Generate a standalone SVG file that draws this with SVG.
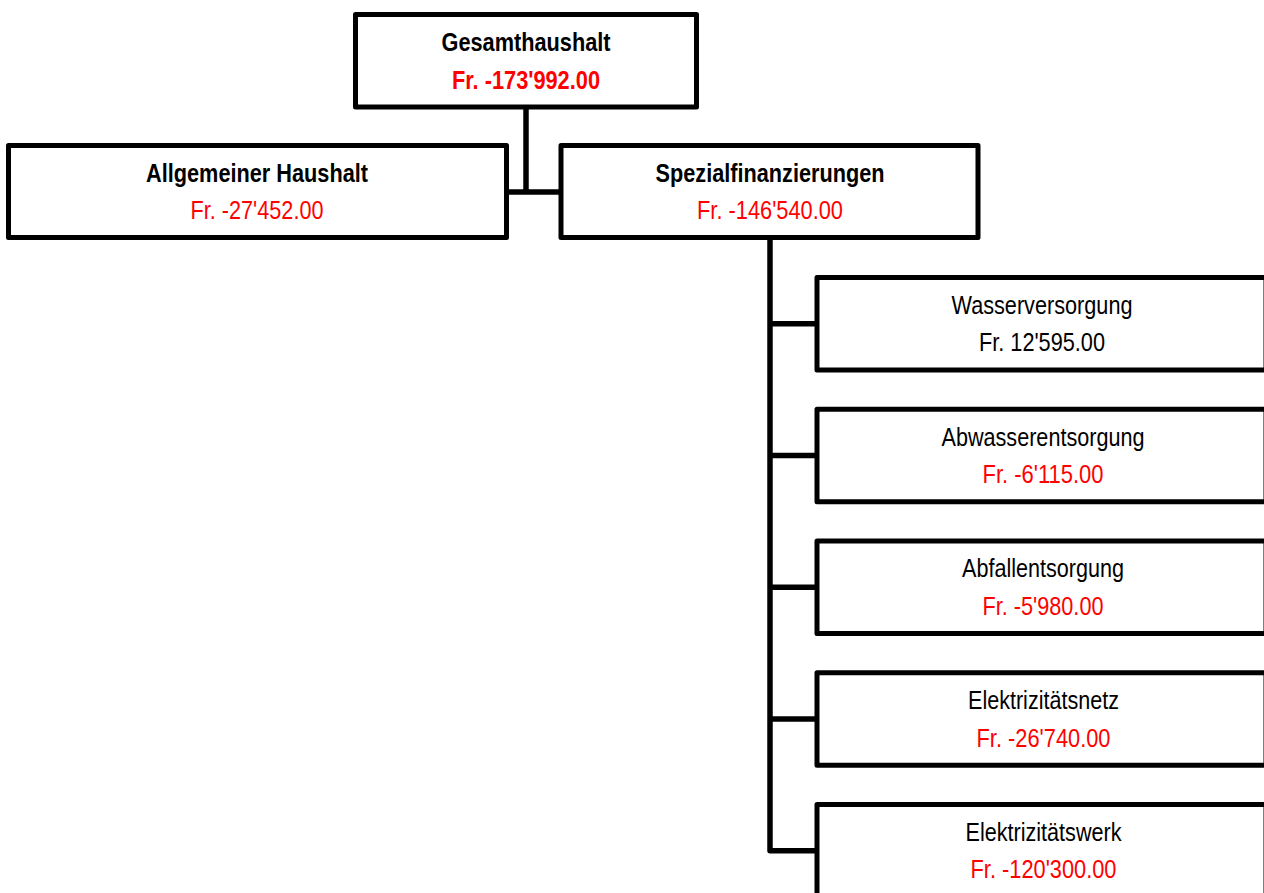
<svg xmlns="http://www.w3.org/2000/svg" width="1264" height="893" viewBox="0 0 1264 893">
<style>
.box{fill:#fff;stroke:#000;stroke-width:5;stroke-linejoin:round}
.con{fill:none;stroke:#000;stroke-width:5.5;stroke-linejoin:round}
text{font-family:"Liberation Sans Narrow","Liberation Sans",Arial,sans-serif;font-size:25px;text-anchor:middle}
.t{fill:#000}
.v{fill:#ff0000}
.b{font-weight:bold}
</style>
<rect width="1264" height="893" fill="#fff"/>
<g id="connectors">
<path class="con" d="M526 107V192"/>
<path class="con" d="M506.7 192H561"/>
<path class="con" d="M770 237V850.75H817"/>
<path class="con" d="M770 323.75H817"/>
<path class="con" d="M770 455.5H817"/>
<path class="con" d="M770 587.25H817"/>
<path class="con" d="M770 719H817"/>
</g>
<g id="gesamthaushalt">
<rect class="box" x="355.5" y="14.5" width="341" height="92.5"/>
<text class="t b" x="526" y="51" textLength="169" lengthAdjust="spacingAndGlyphs">Gesamthaushalt</text>
<text class="v b" x="526" y="88.5" textLength="148" lengthAdjust="spacingAndGlyphs">Fr. -173'992.00</text>
</g>
<g id="allgemeiner-haushalt">
<rect class="box" x="8.5" y="145.5" width="498" height="92"/>
<text class="t b" x="257" y="181.5" textLength="222" lengthAdjust="spacingAndGlyphs">Allgemeiner Haushalt</text>
<text class="v" x="257" y="219" textLength="133" lengthAdjust="spacingAndGlyphs">Fr. -27'452.00</text>
</g>
<g id="spezialfinanzierungen">
<rect class="box" x="561" y="145.5" width="417" height="92"/>
<text class="t b" x="770" y="181.5" textLength="229" lengthAdjust="spacingAndGlyphs">Spezialfinanzierungen</text>
<text class="v" x="770" y="219" textLength="146" lengthAdjust="spacingAndGlyphs">Fr. -146'540.00</text>
</g>
<g id="wasserversorgung">
<rect class="box" x="817" y="277.5" width="449" height="92.5"/>
<text class="t" x="1042" y="313.75" textLength="181" lengthAdjust="spacingAndGlyphs">Wasserversorgung</text>
<text class="t" x="1042" y="351.25" textLength="126" lengthAdjust="spacingAndGlyphs">Fr. 12'595.00</text>
</g>
<g id="abwasserentsorgung">
<rect class="box" x="817" y="409.25" width="449" height="92.5"/>
<text class="t" x="1043" y="445.5" textLength="203" lengthAdjust="spacingAndGlyphs">Abwasserentsorgung</text>
<text class="v" x="1043" y="483" textLength="121" lengthAdjust="spacingAndGlyphs">Fr. -6'115.00</text>
</g>
<g id="abfallentsorgung">
<rect class="box" x="817" y="541" width="449" height="92.5"/>
<text class="t" x="1043" y="577.25" textLength="162" lengthAdjust="spacingAndGlyphs">Abfallentsorgung</text>
<text class="v" x="1043" y="614.75" textLength="121" lengthAdjust="spacingAndGlyphs">Fr. -5'980.00</text>
</g>
<g id="elektrizitaetsnetz">
<rect class="box" x="817" y="672.75" width="449" height="92.5"/>
<text class="t" x="1043.5" y="709" textLength="151" lengthAdjust="spacingAndGlyphs">Elektrizitätsnetz</text>
<text class="v" x="1043.5" y="746.5" textLength="134" lengthAdjust="spacingAndGlyphs">Fr. -26'740.00</text>
</g>
<g id="elektrizitaetswerk">
<rect class="box" x="817" y="804.5" width="449" height="92.5"/>
<text class="t" x="1043.5" y="840.75" textLength="156" lengthAdjust="spacingAndGlyphs">Elektrizitätswerk</text>
<text class="v" x="1043.5" y="878.25" textLength="146" lengthAdjust="spacingAndGlyphs">Fr. -120'300.00</text>
</g>
</svg>
